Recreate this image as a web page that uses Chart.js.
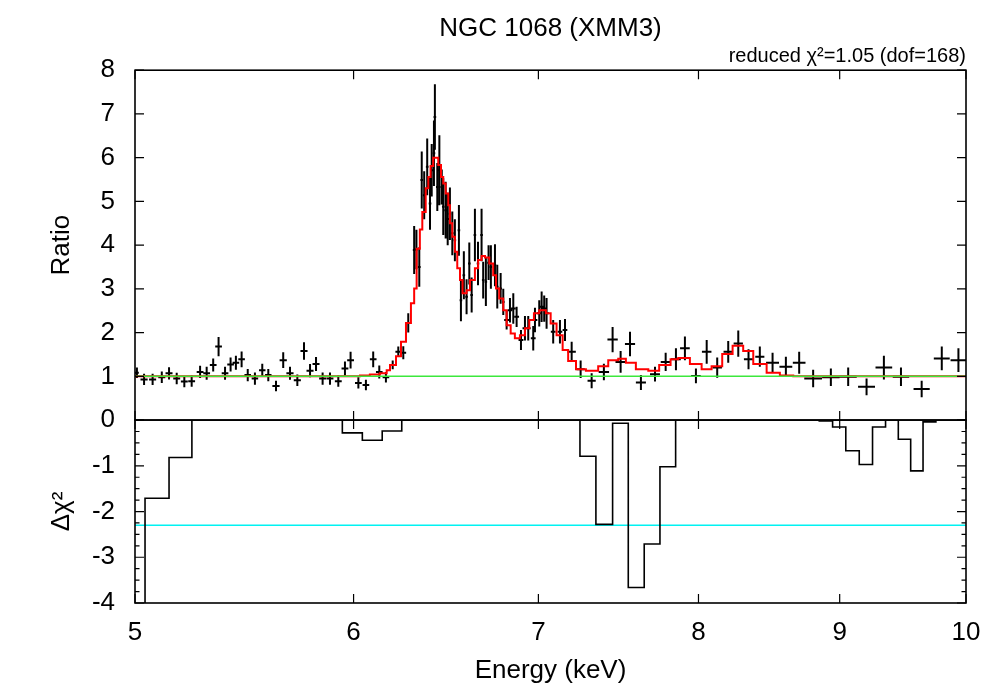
<!DOCTYPE html>
<html><head><meta charset="utf-8">
<script src="https://cdn.jsdelivr.net/npm/chart.js@4.4.1/dist/chart.umd.min.js"></script>
<style>html,body{margin:0;padding:0;background:#fff}</style>
</head><body>
<canvas id="c" width="1000" height="700"></canvas>
<script>
// ---- data ----
const energy = [5.008,5.038,5.074,5.113,5.144,5.177,5.210,5.242,5.279,5.308,
  5.337,5.361,5.390,5.415,5.439,5.465,5.493,5.526,5.560,5.588,
  5.624,5.658,5.690,5.725,5.757,5.786,5.815,5.847,5.883,5.924,
  5.957,5.985,6.024,6.062,6.099,6.130,6.164,6.199,6.228,6.254,
  6.280,6.311,6.323,6.338,6.351,6.364,6.380,6.395,6.404,6.416,
  6.421,6.434,6.445,6.458,6.466,6.479,6.490,6.502,6.515,6.529,
  6.551,6.562,6.578,6.593,6.608,6.621,6.639,6.656,6.676,6.685,
  6.700,6.715,6.728,6.751,6.764,6.783,6.798,6.817,6.836,6.855,
  6.874,6.899,6.922,6.941,6.970,6.980,7.005,7.019,7.034,7.048,
  7.087,7.127,7.157,7.197,7.251,7.318,7.393,7.447,7.497,7.556,
  7.625,7.715,7.784,7.851,7.910,7.983,8.055,8.126,8.201,8.270,
  8.341,8.420,8.510,8.605,8.701,8.803,8.934,9.064,9.204,9.338,
  9.472,9.637,9.800,9.937];
const energyErr = [0.008,0.015,0.015,0.015,0.015,0.015,0.015,0.015,0.015,0.015,
  0.015,0.015,0.015,0.015,0.015,0.015,0.015,0.015,0.015,0.015,
  0.017,0.017,0.017,0.017,0.017,0.017,0.017,0.017,0.017,0.017,
  0.017,0.017,0.017,0.017,0.017,0.017,0.017,0.015,0.015,0.015,
  0.015,0.007,0.007,0.007,0.007,0.007,0.007,0.007,0.007,0.007,
  0.007,0.007,0.007,0.007,0.007,0.007,0.007,0.007,0.007,0.007,
  0.007,0.007,0.007,0.007,0.007,0.007,0.007,0.007,0.007,0.007,
  0.007,0.007,0.007,0.007,0.007,0.007,0.007,0.014,0.014,0.014,
  0.014,0.014,0.014,0.014,0.014,0.014,0.014,0.014,0.014,0.014,
  0.014,0.014,0.014,0.025,0.025,0.025,0.032,0.032,0.032,0.032,
  0.032,0.032,0.032,0.032,0.032,0.032,0.032,0.032,0.032,0.032,
  0.032,0.032,0.046,0.046,0.046,0.065,0.065,0.065,0.065,0.065,
  0.065,0.065,0.065,0.065];
const ratio = [1.08,0.93,0.93,0.98,1.07,0.95,0.88,0.89,1.10,1.07,
  1.26,1.68,1.07,1.27,1.31,1.39,1.03,0.95,1.14,1.03,
  0.78,1.37,1.07,0.91,1.58,1.13,1.28,0.95,0.95,0.89,
  1.18,1.37,0.85,0.80,1.39,1.10,0.98,1.26,1.56,1.54,
  2.22,3.89,3.90,3.50,5.49,5.14,5.79,4.95,5.71,6.10,
  6.93,5.33,5.71,5.33,4.88,4.80,4.60,4.72,4.27,4.11,
  4.34,2.74,3.31,2.82,3.58,2.86,4.23,3.58,4.23,3.20,
  3.16,3.60,3.50,3.54,3.05,3.01,2.70,2.29,2.51,2.55,
  2.36,1.83,2.10,2.10,1.87,2.29,2.44,2.59,2.55,2.44,
  2.02,2.02,2.06,1.56,1.16,0.90,1.10,1.84,1.33,1.74,
  0.86,1.05,1.33,1.39,1.64,1.01,1.56,1.20,1.56,1.75,
  1.39,1.45,1.31,1.22,1.31,0.95,0.98,0.99,0.76,1.20,
  0.99,0.71,1.41,1.37];
const ratioErr = [0.12,0.13,0.13,0.13,0.14,0.13,0.13,0.13,0.14,0.15,
  0.15,0.22,0.15,0.16,0.16,0.18,0.14,0.14,0.15,0.14,
  0.12,0.18,0.15,0.13,0.20,0.15,0.16,0.14,0.14,0.13,
  0.16,0.19,0.13,0.12,0.18,0.15,0.12,0.10,0.12,0.15,
  0.22,0.55,0.45,0.45,0.65,0.55,0.65,0.60,0.60,0.75,
  0.75,0.55,0.80,0.40,0.65,0.65,0.60,0.60,0.50,0.48,
  0.58,0.48,0.55,0.40,0.48,0.40,0.60,0.50,0.60,0.42,
  0.55,0.40,0.50,0.48,0.50,0.35,0.30,0.22,0.28,0.35,
  0.23,0.23,0.28,0.28,0.28,0.28,0.30,0.35,0.30,0.35,
  0.27,0.27,0.25,0.23,0.20,0.17,0.19,0.29,0.25,0.28,
  0.17,0.17,0.21,0.25,0.27,0.17,0.27,0.23,0.25,0.30,
  0.23,0.23,0.23,0.23,0.25,0.20,0.20,0.21,0.19,0.27,
  0.21,0.19,0.27,0.27];
// model (red histogram): bin left edges (last = right end) and values
const modelEdges = [5.0,6.032,6.082,6.133,6.168,6.185,6.216,6.242,6.268,6.294,
  6.311,6.324,6.341,6.354,6.372,6.386,6.398,6.412,6.439,6.454,
  6.466,6.479,6.493,6.502,6.515,6.529,6.542,6.557,6.571,6.593,
  6.612,6.639,6.657,6.676,6.695,6.719,6.741,6.757,6.775,6.798,
  6.817,6.840,6.864,6.893,6.922,6.947,6.974,7.005,7.044,7.072,
  7.107,7.143,7.176,7.223,7.283,7.358,7.420,7.482,7.530,7.593,
  7.672,7.742,7.816,7.866,7.943,8.021,8.088,8.160,8.231,8.304,
  8.374,8.468,8.562,8.658,10.0];
const modelRatio = [1.00,1.02,1.04,1.07,1.14,1.26,1.46,1.79,2.22,2.67,
  3.01,3.92,4.36,4.76,5.30,5.56,5.81,6.00,5.83,5.56,
  5.41,5.18,4.91,4.50,4.19,3.85,3.47,3.20,2.90,2.97,
  3.20,3.47,3.66,3.75,3.72,3.58,3.31,3.01,2.78,2.51,
  2.17,1.98,1.87,1.94,2.10,2.29,2.44,2.51,2.44,2.21,
  1.94,1.60,1.35,1.16,1.13,1.23,1.37,1.40,1.31,1.16,
  1.13,1.26,1.39,1.42,1.28,1.16,1.23,1.51,1.70,1.58,
  1.28,1.08,1.02,1.00];
// delta chi^2 histogram
const residEdges = [5.0,5.042,5.144,5.243,5.944,6.044,6.145,6.246,7.247,7.344,
  7.447,7.545,7.646,7.747,7.849,8.848,8.947,9.046,9.148,9.250,
  9.351,9.451,9.549,9.648,9.752,10.0];
const residValues = [-6.0,-1.71,-0.82,0,-0.28,-0.44,-0.24,0,-0.79,-2.28,
  -0.07,-3.66,-2.71,-1.02,0,-0.02,-0.15,-0.67,-0.97,-0.15,
  0,-0.42,-1.11,-0.04,0];
const unityLevel = [1, 1];
const chi2Level = [-2.3, -2.3];
const xTicks = [5,6,7,8,9,10];
const ratioTicks = [0,1,2,3,4,5,6,7,8];
const residTicks = [-4,-3,-2,-1,0];
const residMinor = [-3.75,-3.5,-3.25,-2.75,-2.5,-2.25,-1.75,-1.5,-1.25,-0.75,-0.5,-0.25];

// ---- build datasets from the arrays ----
const hBars = [], vBars = [];
energy.forEach((e, i) => {
  hBars.push({x: e - energyErr[i], y: ratio[i]}, {x: e + energyErr[i], y: ratio[i]}, {x: e, y: null});
  vBars.push({x: e, y: ratio[i] - ratioErr[i]}, {x: e, y: ratio[i] + ratioErr[i]}, {x: e, y: null});
});
const modelData = modelRatio.map((v, i) => ({x: modelEdges[i], y: v}));
modelData.push({x: modelEdges[modelEdges.length - 1], y: modelRatio[modelRatio.length - 1]});
const residData = residValues.map((v, i) => ({x: residEdges[i], y: v}));
residData.push({x: residEdges[residEdges.length - 1], y: residValues[residValues.length - 1]});

const FONT = "'Liberation Sans', Arial, Helvetica, sans-serif";
const f = (s) => ({family: FONT, size: s, weight: 'normal'});

const framePlugin = {
  id: 'frames',
  afterDatasetsDraw(chart) {
    const {ctx} = chart;
    const x = chart.scales.x, y = chart.scales.y, yr = chart.scales.yr;
    const L = chart.chartArea.left, R = chart.chartArea.right;
    ctx.save();
    ctx.strokeStyle = '#000';
    const panels = [
      {s: y, major: ratioTicks, minor: []},
      {s: yr, major: residTicks, minor: residMinor}
    ];
    for (const p of panels) {
      const T = p.s.top, B = p.s.bottom;
      ctx.lineWidth = 1.6;
      ctx.strokeRect(L, T, R - L, B - T);
      ctx.lineWidth = 1.2;
      ctx.beginPath();
      for (const v of p.major) {
        const py = p.s.getPixelForValue(v);
        ctx.moveTo(L, py); ctx.lineTo(L + 9, py);
        ctx.moveTo(R, py); ctx.lineTo(R - 9, py);
      }
      for (const v of p.minor) {
        const py = p.s.getPixelForValue(v);
        ctx.moveTo(L, py); ctx.lineTo(L + 4.5, py);
        ctx.moveTo(R, py); ctx.lineTo(R - 4.5, py);
      }
      for (const v of xTicks) {
        const px = x.getPixelForValue(v);
        ctx.moveTo(px, T); ctx.lineTo(px, T + 9);
        ctx.moveTo(px, B); ctx.lineTo(px, B - 9);
      }
      ctx.stroke();
    }
    ctx.restore();
  }
};

new Chart(document.getElementById('c'), {
  type: 'line',
  data: {
    datasets: [
      {data: [{x: 5, y: unityLevel[0]}, {x: 10, y: unityLevel[1]}], yAxisID: 'y', borderColor: '#3ce83c', borderWidth: 1.5, pointRadius: 0, order: 0},
      {data: modelData, yAxisID: 'y', stepped: 'before', borderColor: '#ff0000', borderWidth: 2, pointRadius: 0, order: 1},
      {data: hBars, yAxisID: 'y', borderColor: '#000', borderWidth: 2, pointRadius: 0, spanGaps: false, order: 2},
      {data: vBars, yAxisID: 'y', borderColor: '#000', borderWidth: 2, pointRadius: 0, spanGaps: false, order: 2},
      {data: residData, yAxisID: 'yr', stepped: 'before', borderColor: '#000', borderWidth: 1.6, pointRadius: 0, order: 3},
      {data: [{x: 5, y: chi2Level[0]}, {x: 10, y: chi2Level[1]}], yAxisID: 'yr', borderColor: '#00f2f2', borderWidth: 1.6, pointRadius: 0, order: 4}
    ]
  },
  options: {
    responsive: false,
    animation: false,
    devicePixelRatio: 1,
    layout: {padding: {left: 0, right: 34, top: 0, bottom: 0}},
    plugins: {
      legend: {display: false},
      tooltip: {enabled: false},
      title: {display: true, text: 'NGC 1068 (XMM3)', color: '#000', font: f(26), padding: {top: 13, bottom: 0}, fullSize: false},
      subtitle: {display: true, text: 'reduced \u03c7\u00b2=1.05 (dof=168)', align: 'end', color: '#000', font: f(20), padding: {top: 0, bottom: 2}, fullSize: false}
    },
    scales: {
      x: {
        type: 'logarithmic', position: 'bottom', min: 5, max: 10,
        afterBuildTicks: (s) => { s.ticks = xTicks.map(v => ({value: v})); },
        ticks: {callback: (v) => String(v), color: '#000', font: f(26), padding: 14, maxRotation: 0, autoSkip: false},
        grid: {display: false, drawTicks: false},
        border: {display: false},
        title: {display: true, text: 'Energy (keV)', color: '#000', font: f(26), padding: {top: 0, bottom: 14}},
        afterFit: (s) => { s.height = 97; }
      },
      y: {
        type: 'linear', position: 'left', stack: 'panels', stackWeight: 350, weight: 2, min: 0, max: 8,
        afterBuildTicks: (s) => { s.ticks = ratioTicks.map(v => ({value: v})); },
        ticks: {callback: (v) => String(v), color: '#000', font: f(26), padding: 20, autoSkip: false},
        grid: {display: false, drawTicks: false},
        border: {display: false},
        title: {display: true, text: 'Ratio', color: '#000', font: f(26), padding: {top: 46, bottom: 0}},
        afterFit: (s) => { s.width = 135; }
      },
      yr: {
        type: 'linear', position: 'left', stack: 'panels', stackWeight: 183, weight: 1, min: -4, max: 0,
        afterBuildTicks: (s) => { s.ticks = residTicks.map(v => ({value: v})); },
        ticks: {callback: (v) => (v === 0 ? '' : String(v)), color: '#000', font: f(26), padding: 20, autoSkip: false},
        grid: {display: false, drawTicks: false},
        border: {display: false},
        title: {display: true, text: '\u0394\u03c7\u00b2', color: '#000', font: f(26), padding: {top: 46, bottom: 0}},
        afterFit: (s) => { s.width = 135; }
      }
    }
  },
  plugins: [framePlugin]
});
</script>
</body></html>
